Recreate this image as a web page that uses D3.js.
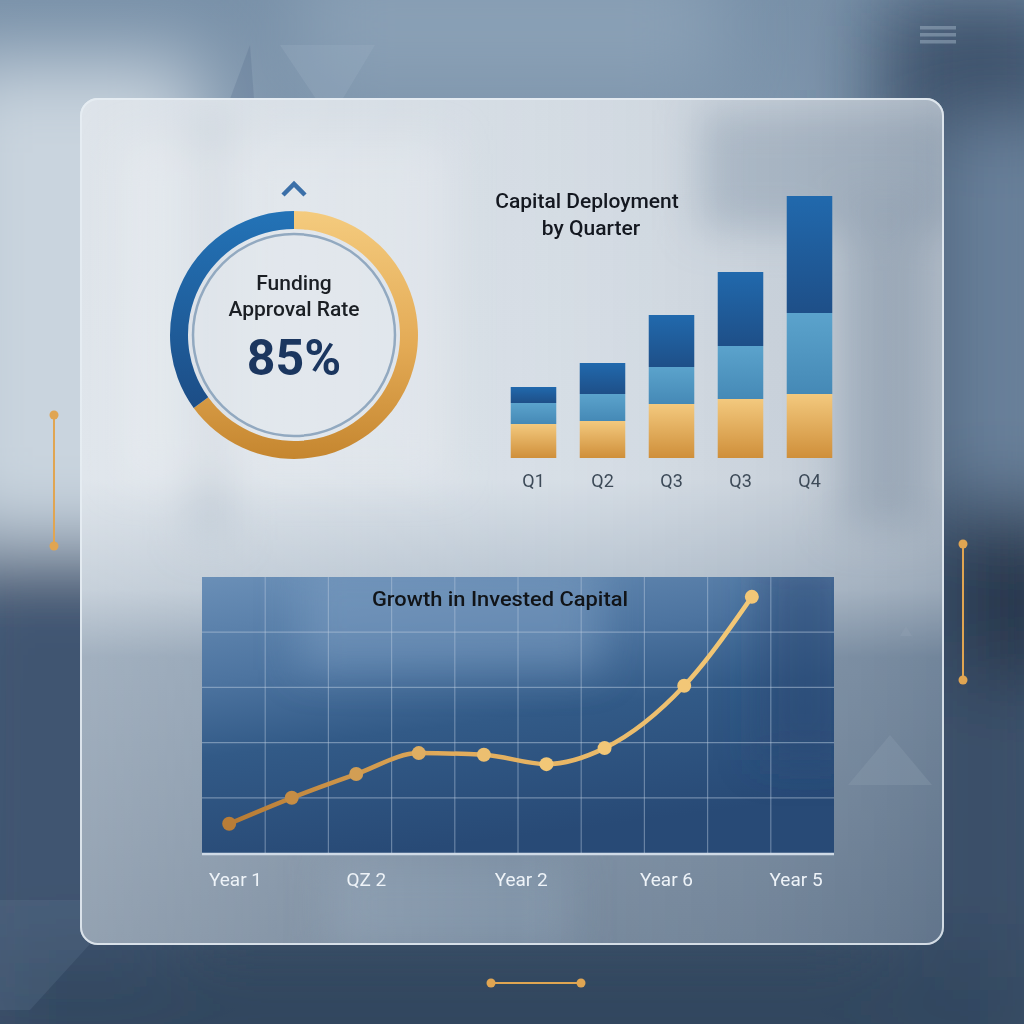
<!DOCTYPE html>
<html><head><meta charset="utf-8">
<script src="https://cdn.jsdelivr.net/npm/d3@7"></script>
<style>html,body{margin:0;padding:0;background:#4a6280;}svg{display:block;}</style>
</head><body>
<svg id="chart" width="1024" height="1024"></svg>
<script>
// ---- data ----
const approvalLabel = "85%";
const approvalSegments = [65, 35];           // gold, blue share of the ring
const quarters = ["Q1", "Q2", "Q3", "Q3", "Q4"];
const seriesGold  = [3.4, 3.7, 5.4, 5.9, 6.4];
const seriesLight = [2.1, 2.7, 3.7, 5.3, 8.1];
const seriesDark  = [1.6, 3.1, 5.2, 7.4, 11.7];
const growthX = [0.43, 1.42, 2.44, 3.43, 4.46, 5.45, 6.37, 7.63, 8.70];
const growthY = [0.53, 1.00, 1.43, 1.81, 1.78, 1.61, 1.90, 3.03, 4.64];
const yearTicks = ["Year 1", "QZ 2", "Year 2", "Year 6", "Year 5"];
const yearTickPos = [0.53, 2.6, 5.05, 7.35, 9.4];

const svg = d3.select("#chart");
const defs = svg.append("defs");

function lin(id, x1, y1, x2, y2, stops) {
  const g = defs.append("linearGradient").attr("id", id)
    .attr("x1", x1).attr("y1", y1).attr("x2", x2).attr("y2", y2);
  stops.forEach(s => g.append("stop").attr("offset", s[0]).attr("stop-color", s[1]).attr("stop-opacity", s[2] == null ? 1 : s[2]));
  return g;
}
function blur(id, sd) {
  defs.append("filter").attr("id", id).attr("x", "-50%").attr("y", "-50%").attr("width", "200%").attr("height", "200%")
    .append("feGaussianBlur").attr("stdDeviation", sd);
}
blur("b40", 40); blur("b20", 20); blur("b8", 8);

// ---- background ----
lin("bgV", 0, 0, 0, 1, [[0, "#7890a8"], [0.45, "#8ea2b6"], [0.62, "#5d7490"], [1, "#34485f"]]);
svg.append("rect").attr("width", 1024).attr("height", 1024).attr("fill", "url(#bgV)");
const bgBlobs = svg.append("g").attr("filter", "url(#b40)");
bgBlobs.append("rect").attr("x", -60).attr("y", 60).attr("width", 260).attr("height", 480).attr("fill", "#c9d4de");
bgBlobs.append("rect").attr("x", -60).attr("y", 560).attr("width", 240).attr("height", 520).attr("fill", "#3f5571");
bgBlobs.append("rect").attr("x", 880).attr("y", 0).attr("width", 200).attr("height", 1100).attr("fill", "#3a5069");
bgBlobs.append("rect").attr("x", 940).attr("y", 120).attr("width", 120).attr("height", 380).attr("fill", "#6a829c");
bgBlobs.append("rect").attr("x", 960).attr("y", 520).attr("width", 120).attr("height", 160).attr("fill", "#25344a");
bgBlobs.append("rect").attr("x", 0).attr("y", 950).attr("width", 1024).attr("height", 120).attr("fill", "#33475f");
bgBlobs.append("rect").attr("x", 300).attr("y", -40).attr("width", 420).attr("height", 130).attr("fill", "#8aa0b6");
// faint background triangles / marks
svg.append("path").attr("d", "M280,45 L375,45 L330,120 Z").attr("fill", "#9db0c2").attr("opacity", 0.3);
svg.append("path").attr("d", "M250,45 L200,180 L260,180 Z").attr("fill", "#5a728e").attr("opacity", 0.3);
svg.append("path").attr("d", "M0,900 L130,900 L30,1010 L0,1010 Z").attr("fill", "#6f86a0").attr("opacity", 0.2);
const ham = svg.append("g").attr("fill", "#9fb2c4").attr("opacity", 0.5);
[26, 33, 40].forEach(y => ham.append("rect").attr("x", 920).attr("y", y).attr("width", 36).attr("height", 3.5));

// ---- glass card ----
lin("cardV", 0, 0, 0, 1, [[0, "#d3dbe3"], [0.45, "#d6dee6"], [0.58, "#b5c2cf"], [0.66, "#8497ab"], [1, "#708398"]]);
lin("cardH", 0, 0, 1, 0, [[0, "#ffffff", 0.25], [0.5, "#ffffff", 0.05], [1, "#1e3350", 0.18]]);
const card = svg.append("g");
card.append("rect").attr("x", 80).attr("y", 98).attr("width", 864).attr("height", 847).attr("rx", 18)
  .attr("fill", "url(#cardV)");
const clip = defs.append("clipPath").attr("id", "cardClip");
clip.append("rect").attr("x", 80).attr("y", 98).attr("width", 864).attr("height", 847).attr("rx", 18);
const cardBlobs = card.append("g").attr("clip-path", "url(#cardClip)").append("g").attr("filter", "url(#b20)");
cardBlobs.append("rect").attr("x", 190).attr("y", 120).attr("width", 40).attr("height", 420).attr("fill", "#aab8c6").attr("opacity", 0.7);
cardBlobs.append("rect").attr("x", 120).attr("y", 140).attr("width", 330).attr("height", 340).attr("fill", "#e3e8ec").attr("opacity", 0.6);
cardBlobs.append("rect").attr("x", 700).attr("y", 110).attr("width", 260).attr("height", 120).attr("fill", "#9fafbf").attr("opacity", 0.7);
cardBlobs.append("rect").attr("x", 840).attr("y", 200).attr("width", 90).attr("height", 330).attr("fill", "#a6b4c2").attr("opacity", 0.8);
cardBlobs.append("rect").attr("x", 330).attr("y", 860).attr("width", 240).attr("height", 90).attr("fill", "#8497ae").attr("opacity", 0.6);
card.append("rect").attr("x", 80).attr("y", 98).attr("width", 864).attr("height", 847).attr("rx", 18)
  .attr("fill", "url(#cardH)");
card.append("path").attr("d", "M848,785 L890,735 L932,785 Z").attr("fill", "#8d9eb0").attr("opacity", 0.35).attr("clip-path", "url(#cardClip)");
card.append("path").attr("d", "M900,636 L906,626 L912,636 Z").attr("fill", "#8d9eb0").attr("opacity", 0.5);
card.append("rect").attr("x", 81).attr("y", 99).attr("width", 862).attr("height", 845).attr("rx", 17)
  .attr("fill", "none").attr("stroke", "#e6edf3").attr("stroke-opacity", 0.85).attr("stroke-width", 2);

// ---- decorative gold markers ----
const gold = "#e0a552";
function vMarker(x, y1, y2) {
  svg.append("line").attr("x1", x).attr("x2", x).attr("y1", y1).attr("y2", y2).attr("stroke", gold).attr("stroke-width", 2);
  [y1, y2].forEach(y => svg.append("circle").attr("cx", x).attr("cy", y).attr("r", 4.5).attr("fill", gold));
}
vMarker(54, 415, 546);
vMarker(963, 544, 680);
svg.append("line").attr("x1", 491).attr("x2", 581).attr("y1", 983).attr("y2", 983).attr("stroke", gold).attr("stroke-width", 2);
[491, 581].forEach(x => svg.append("circle").attr("cx", x).attr("cy", 983).attr("r", 4.5).attr("fill", gold));

// ---- donut ----
const dc = {x: 294, y: 335};
lin("goldArc", 0, 0, 0, 1, [[0, "#f4cb7e"], [0.55, "#e3aa55"], [1, "#c5862f"]]);
lin("blueArc", 0, 0, 0, 1, [[0, "#2373b7"], [1, "#1c4d86"]]);
const pie = d3.pie().sort(null).value(d => d)(approvalSegments);
const arc = d3.arc().innerRadius(106).outerRadius(124);
const dg = svg.append("g").attr("transform", `translate(${dc.x},${dc.y})`);
dg.selectAll("path.seg").data(pie).join("path").attr("class", "seg")
  .attr("d", arc)
  .attr("fill", (d, i) => i === 0 ? "url(#goldArc)" : "url(#blueArc)");
dg.append("circle").attr("r", 101).attr("fill", "#e2e8ed").attr("fill-opacity", 0.55)
  .attr("stroke", "#92a9c0").attr("stroke-width", 2.5);
dg.append("text").attr("y", -45).attr("text-anchor", "middle").attr("font-family", "Roboto").attr("font-weight", 500)
  .attr("font-size", 21).attr("fill", "#1b1f24").text("Funding");
dg.append("text").attr("y", -19).attr("text-anchor", "middle").attr("font-family", "Roboto").attr("font-weight", 500)
  .attr("font-size", 21).attr("fill", "#1b1f24").text("Approval Rate");
dg.append("text").attr("y", 40).attr("text-anchor", "middle").attr("font-family", "Roboto").attr("font-weight", 700)
  .attr("font-size", 50).attr("fill", "#1b365f").text(approvalLabel);
svg.append("path").attr("d", "M283,195 L294,184 L305,195").attr("fill", "none").attr("stroke", "#3b6fa8")
  .attr("stroke-width", 4.5);

// ---- stacked bars ----
const bx = d3.scaleBand().domain(d3.range(quarters.length)).range([499, 844]).paddingInner(0.34).paddingOuter(0.17);
const by = d3.scaleLinear().domain([0, 26.2]).range([458, 196]);
const rows = quarters.map((q, i) => ({q, gold: seriesGold[i], light: seriesLight[i], dark: seriesDark[i]}));
const stack = d3.stack().keys(["gold", "light", "dark"])(rows);
lin("barGold", 0, 0, 0, 1, [[0, "#f3c97e"], [1, "#cf8f3a"]]);
lin("barLight", 0, 0, 0, 1, [[0, "#5ba3cc"], [1, "#4589b6"]]);
lin("barDark", 0, 0, 0, 1, [[0, "#2169ad"], [1, "#1e4f88"]]);
const fills = {gold: "url(#barGold)", light: "url(#barLight)", dark: "url(#barDark)"};
const bars = svg.append("g");
stack.forEach(layer => {
  bars.selectAll(null).data(layer).join("rect")
    .attr("x", (d, i) => bx(i)).attr("width", bx.bandwidth())
    .attr("y", d => by(d[1])).attr("height", d => by(d[0]) - by(d[1]))
    .attr("fill", fills[layer.key]);
});
bars.selectAll("text.q").data(quarters).join("text").attr("class", "q")
  .attr("x", (d, i) => bx(i) + bx.bandwidth() / 2).attr("y", 487).attr("text-anchor", "middle")
  .attr("font-family", "Roboto").attr("font-size", 18).attr("fill", "#3d4a58").text(d => d);
svg.append("text").attr("x", 587).attr("y", 208).attr("text-anchor", "middle").attr("font-family", "Roboto")
  .attr("font-weight", 500).attr("font-size", 21).attr("fill", "#141820").text("Capital Deployment");
svg.append("text").attr("x", 591).attr("y", 235).attr("text-anchor", "middle").attr("font-family", "Roboto")
  .attr("font-weight", 500).attr("font-size", 21).attr("fill", "#141820").text("by Quarter");

// ---- line chart ----
const px = d3.scaleLinear().domain([0, 10]).range([202, 834]);
const py = d3.scaleLinear().domain([0, 5]).range([853, 577]);
lin("panelG", 0, 0, 0.3, 1, [[0, "#6a8fb7"], [0.35, "#4d74a0"], [0.6, "#325a87"], [1, "#284a76"]]);
const lc = svg.append("g");
lc.append("rect").attr("x", px(0)).attr("y", py(5)).attr("width", px(10) - px(0)).attr("height", py(0) - py(5))
  .attr("fill", "url(#panelG)");
const pclip = defs.append("clipPath").attr("id", "panelClip");
pclip.append("rect").attr("x", px(0)).attr("y", py(5)).attr("width", px(10) - px(0)).attr("height", py(0) - py(5));
const pblob = lc.append("g").attr("clip-path", "url(#panelClip)").append("g").attr("filter", "url(#b20)");
pblob.append("rect").attr("x", 300).attr("y", 560).attr("width", 300).attr("height", 110).attr("fill", "#7fa0c4").attr("opacity", 0.5);
pblob.append("rect").attr("x", 760).attr("y", 560).attr("width", 90).attr("height", 200).attr("fill", "#27476f").attr("opacity", 0.5);
lc.append("g").selectAll("line").data(d3.range(1, 10)).join("line")
  .attr("x1", d => px(d)).attr("x2", d => px(d)).attr("y1", py(5)).attr("y2", py(0))
  .attr("stroke", "#b7c9de").attr("stroke-opacity", 0.45).attr("stroke-width", 1.2);
lc.append("g").selectAll("line").data(d3.range(1, 5)).join("line")
  .attr("x1", px(0)).attr("x2", px(10)).attr("y1", d => py(d)).attr("y2", d => py(d))
  .attr("stroke", "#b7c9de").attr("stroke-opacity", 0.5).attr("stroke-width", 1.2);
lc.append("line").attr("x1", px(0)).attr("x2", px(10)).attr("y1", py(0) + 1).attr("y2", py(0) + 1)
  .attr("stroke", "#cfdae6").attr("stroke-width", 2.5);
lc.append("text").attr("x", 500).attr("y", 606).attr("text-anchor", "middle").attr("font-family", "Roboto")
  .attr("font-weight", 500).attr("font-size", 21).attr("fill", "#111418")
  .attr("textLength", 256).attr("lengthAdjust", "spacingAndGlyphs")
  .text("Growth in Invested Capital");
lin("lineG", 0, 0, 1, 0, [[0, "#b57a34"], [0.4, "#e0aa5a"], [1, "#f3c978"]]).attr("gradientUnits", "userSpaceOnUse")
  .attr("x1", px(growthX[0])).attr("x2", px(growthX[growthX.length - 1])).attr("y1", 0).attr("y2", 0);
const pts = growthX.map((x, i) => [x, growthY[i]]);
const line = d3.line().x(d => px(d[0])).y(d => py(d[1])).curve(d3.curveMonotoneX);
lc.append("path").attr("d", line(pts)).attr("fill", "none").attr("stroke", "url(#lineG)").attr("stroke-width", 4.5)
  .attr("stroke-linecap", "round");
lc.selectAll("circle.pt").data(pts).join("circle").attr("class", "pt")
  .attr("cx", d => px(d[0])).attr("cy", d => py(d[1])).attr("r", 7)
  .attr("fill", d => d3.interpolateRgb("#b97d37", "#f2c777")(Math.min(1, (d[0] - growthX[0]) / 4.5)));
lc.selectAll("text.yr").data(yearTicks).join("text").attr("class", "yr")
  .attr("x", (d, i) => px(yearTickPos[i])).attr("y", 886).attr("text-anchor", "middle")
  .attr("font-family", "Roboto").attr("font-size", 19).attr("fill", "#eef3f8").text(d => d);
</script>
</body></html>
